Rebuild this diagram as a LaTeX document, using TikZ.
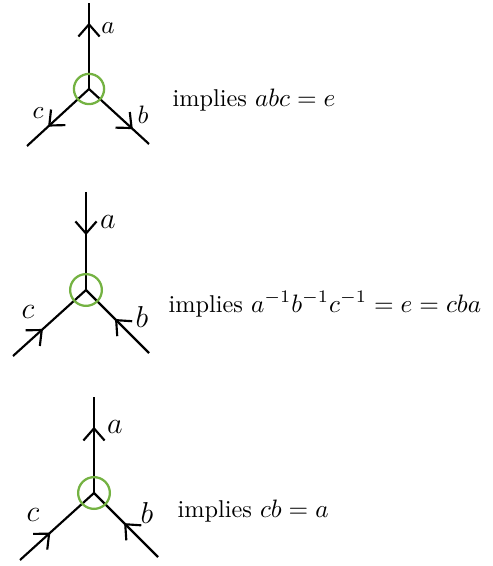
\documentclass[tikz,border=0pt]{standalone}
\usetikzlibrary{arrows.meta,decorations.markings}
\definecolor{ring-green}{RGB}{116,178,66}

\begin{document}
\begin{tikzpicture}[x=0.397pt, y=-0.397pt, every node/.style={font=\normalsize},
    leg/.style={line width=0.85pt},
    ring/.style={draw=ring-green, line width=0.9pt},
    caption/.style={anchor=base west, inner sep=0, font=\fontsize{9.65}{12}\selectfont},
    midarrow/.style={postaction={decorate}, decoration={markings,
      mark=at position #1 with {\arrow{Straight Barb[length=4.8pt,width=8.4pt]}}}}]
  \useasboundingbox (0,0) rectangle (492,566);

  % all three legs leave the vertex
  \coordinate (v1) at (89,89);
  \coordinate (a1) at (89,3);
  \coordinate (b1) at (149,144);
  \coordinate (c1) at (27,146);
  \draw[leg, midarrow=0.77] (v1) -- (a1);
  \draw[leg, midarrow=0.73] (v1) -- (b1);
  \draw[leg, midarrow=0.66] (v1) -- (c1);
  \draw[ring] (v1) circle[radius=6pt];
  \node (la1) at (108,28) {$a$};
  \node (lb1) at (143,115) {$b$};
  \node (lc1) at (38,113) {$c$};
  \node[caption] (t1) at (172,107) {implies $abc = e$};

  % all three legs point into the vertex
  \coordinate (v2) at (86,290);
  \coordinate (a2) at (86,192);
  \coordinate (b2) at (149,353);
  \coordinate (c2) at (13,356);
  \draw[leg, midarrow=0.44] (a2) -- (v2);
  \draw[leg, midarrow=0.54] (b2) -- (v2);
  \draw[leg, midarrow=0.41] (c2) -- (v2);
  \draw[ring] (v2) circle[radius=6.3pt];
  \node[font=\large] (la2) at (108,222) {$a$};
  \node[font=\large] (lb2) at (142,317) {$b$};
  \node[font=\large] (lc2) at (28,312) {$c$};
  \node[caption] (t2) at (168,312) {implies $a^{-1}b^{-1}c^{-1} = e = cba$};

  % b and c in, a out
  \coordinate (v3) at (94,493);
  \coordinate (a3) at (94,397);
  \coordinate (b3) at (158,557);
  \coordinate (c3) at (20,560);
  \draw[leg, midarrow=0.69] (v3) -- (a3);
  \draw[leg, midarrow=0.53] (b3) -- (v3);
  \draw[leg, midarrow=0.41] (c3) -- (v3);
  \draw[ring] (v3) circle[radius=6.3pt];
  \node[font=\large] (la3) at (115,427) {$a$};
  \node[font=\large] (lb3) at (147,513) {$b$};
  \node[font=\large] (lc3) at (33,515) {$c$};
  \node[caption] (t3) at (177,517) {implies $cb = a$};
\end{tikzpicture}
\end{document}
